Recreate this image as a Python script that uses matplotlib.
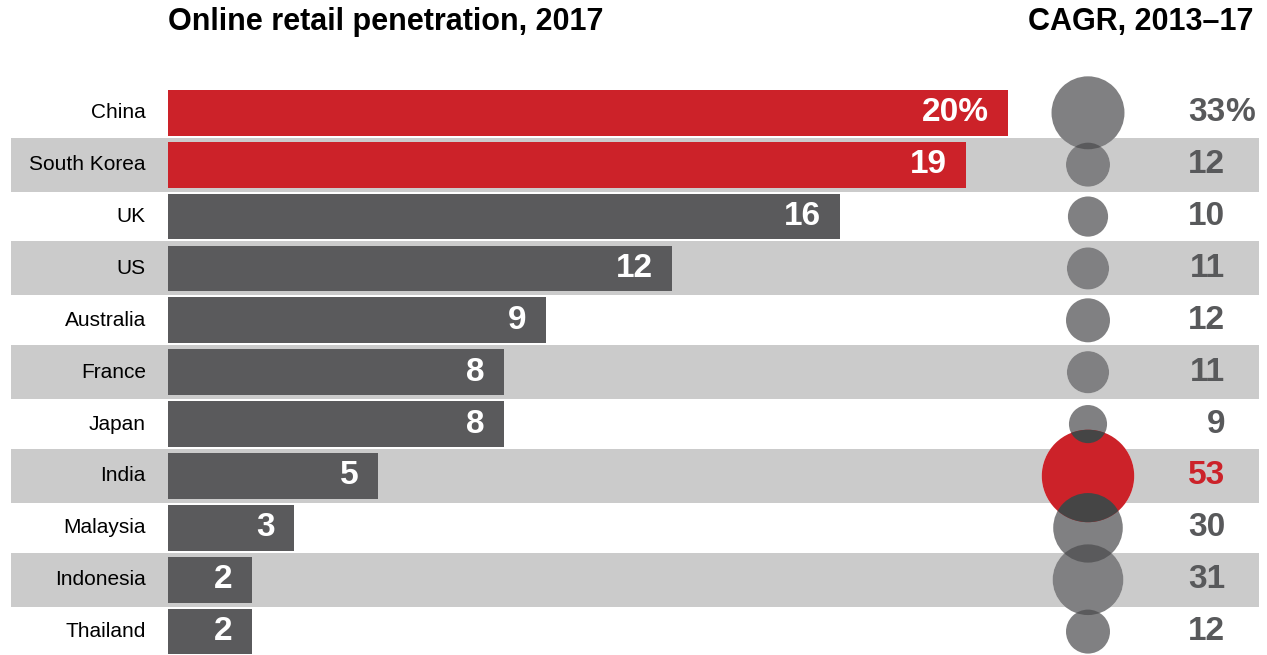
import numpy as np
import matplotlib.pyplot as plt
from matplotlib.patches import Circle

# data
countries = ['China', 'South Korea', 'UK', 'US', 'Australia', 'France',
             'Japan', 'India', 'Malaysia', 'Indonesia', 'Thailand']
penetration = [20, 19, 16, 12, 9, 8, 8, 5, 3, 2, 2]
cagr = [33, 12, 10, 11, 12, 11, 9, 53, 30, 31, 12]
bar_highlight = ['China', 'South Korea']
bubble_highlight = ['India']

RED = '#CC2229'
DARK = '#5A5A5C'
BAND = '#CBCBCB'
NUMGRAY = '#58595B'

plt.rcParams['font.family'] = ['Liberation Sans', 'DejaVu Sans']

W, H = 1267, 655
fig = plt.figure(figsize=(W / 100, H / 100), dpi=100)

n = len(countries)
row_px = 51.88
top_px = 112.8 - row_px / 2
bot_px = top_px + row_px * n
px_per_pct = 42.0
x0_px = 168
left_px, right_px = 11, 1259

# bar axes
ax = fig.add_axes([left_px / W, 1 - bot_px / H, (right_px - left_px) / W, (bot_px - top_px) / H])
ax.set_xlim(-(x0_px - left_px) / px_per_pct, (right_px - x0_px) / px_per_pct)
ax.set_ylim(n - 0.5, -0.5)
ax.axis('off')

y = np.arange(n)
for i in y:
    if i % 2 == 1:
        ax.axhspan(i - 0.52, i + 0.52, color=BAND, lw=0, zorder=0)

bar_colors = [RED if c in bar_highlight else DARK for c in countries]
ax.barh(y, penetration, height=0.88, color=bar_colors, zorder=2)

for i, (c, v) in enumerate(zip(countries, penetration)):
    ax.annotate(c, (0, i), xytext=(-16, 0), textcoords='offset points',
                ha='right', va='center', fontsize=15, color='black')
    lab = f'{v}%' if i == 0 else str(v)
    ax.annotate(lab, (v, i), xytext=(-14, 0), textcoords='offset points',
                ha='right', va='center', fontsize=24, fontweight='bold',
                color='white', zorder=3)

# bubble axes, one unit = one row in both directions
cx_px = 1088
half_w = 100
ax2 = fig.add_axes([(cx_px - half_w) / W, 1 - bot_px / H, 2 * half_w / W, (bot_px - top_px) / H])
ax2.set_xlim(-half_w / row_px, half_w / row_px)
ax2.set_ylim(n - 0.5, -0.5)
ax2.axis('off')
ax2.patch.set_alpha(0)

r_scale = 6.35 / row_px
radii = [r_scale * np.sqrt(v) for v in cagr]

for i, r in enumerate(radii):
    ax2.add_patch(Circle((0, i), r, color='white', lw=0, zorder=1, clip_on=False))
red_patches = []
for i, (c, r) in enumerate(zip(countries, radii)):
    if c in bubble_highlight:
        p = Circle((0, i), r, color=RED, lw=0, zorder=3, clip_on=False)
        red_patches.append((i, p))
    else:
        p = Circle((0, i), r, color='#4B4B4D', alpha=0.7, lw=0, zorder=2, clip_on=False)
    ax2.add_patch(p)

# darker overlap of neighbours on the red bubble
for i, rp in red_patches:
    for j in (i - 1, i + 1):
        if 0 <= j < n:
            ov = Circle((0, j), radii[j], color='#454545', lw=0, zorder=4)
            ax2.add_patch(ov)
            ov.set_clip_path(rp)

num_x = (1225 - cx_px) / row_px
for i, (c, v) in enumerate(zip(countries, cagr)):
    col = RED if c in bubble_highlight else NUMGRAY
    ax2.text(num_x, i, str(v), ha='right', va='center', fontsize=24,
             fontweight='bold', color=col, clip_on=False)
    if i == 0:
        ax2.text(num_x, i, '%', ha='left', va='center', fontsize=24,
                 fontweight='bold', color=col, clip_on=False)

fig.text(x0_px / W, 1 - 22 / H, 'Online retail penetration, 2017', ha='left', va='center',
         fontsize=22, fontweight='bold')
fig.text(1253 / W, 1 - 22 / H, 'CAGR, 2013–17', ha='right', va='center',
         fontsize=22, fontweight='bold')

fig.savefig('out.png', dpi=100)
